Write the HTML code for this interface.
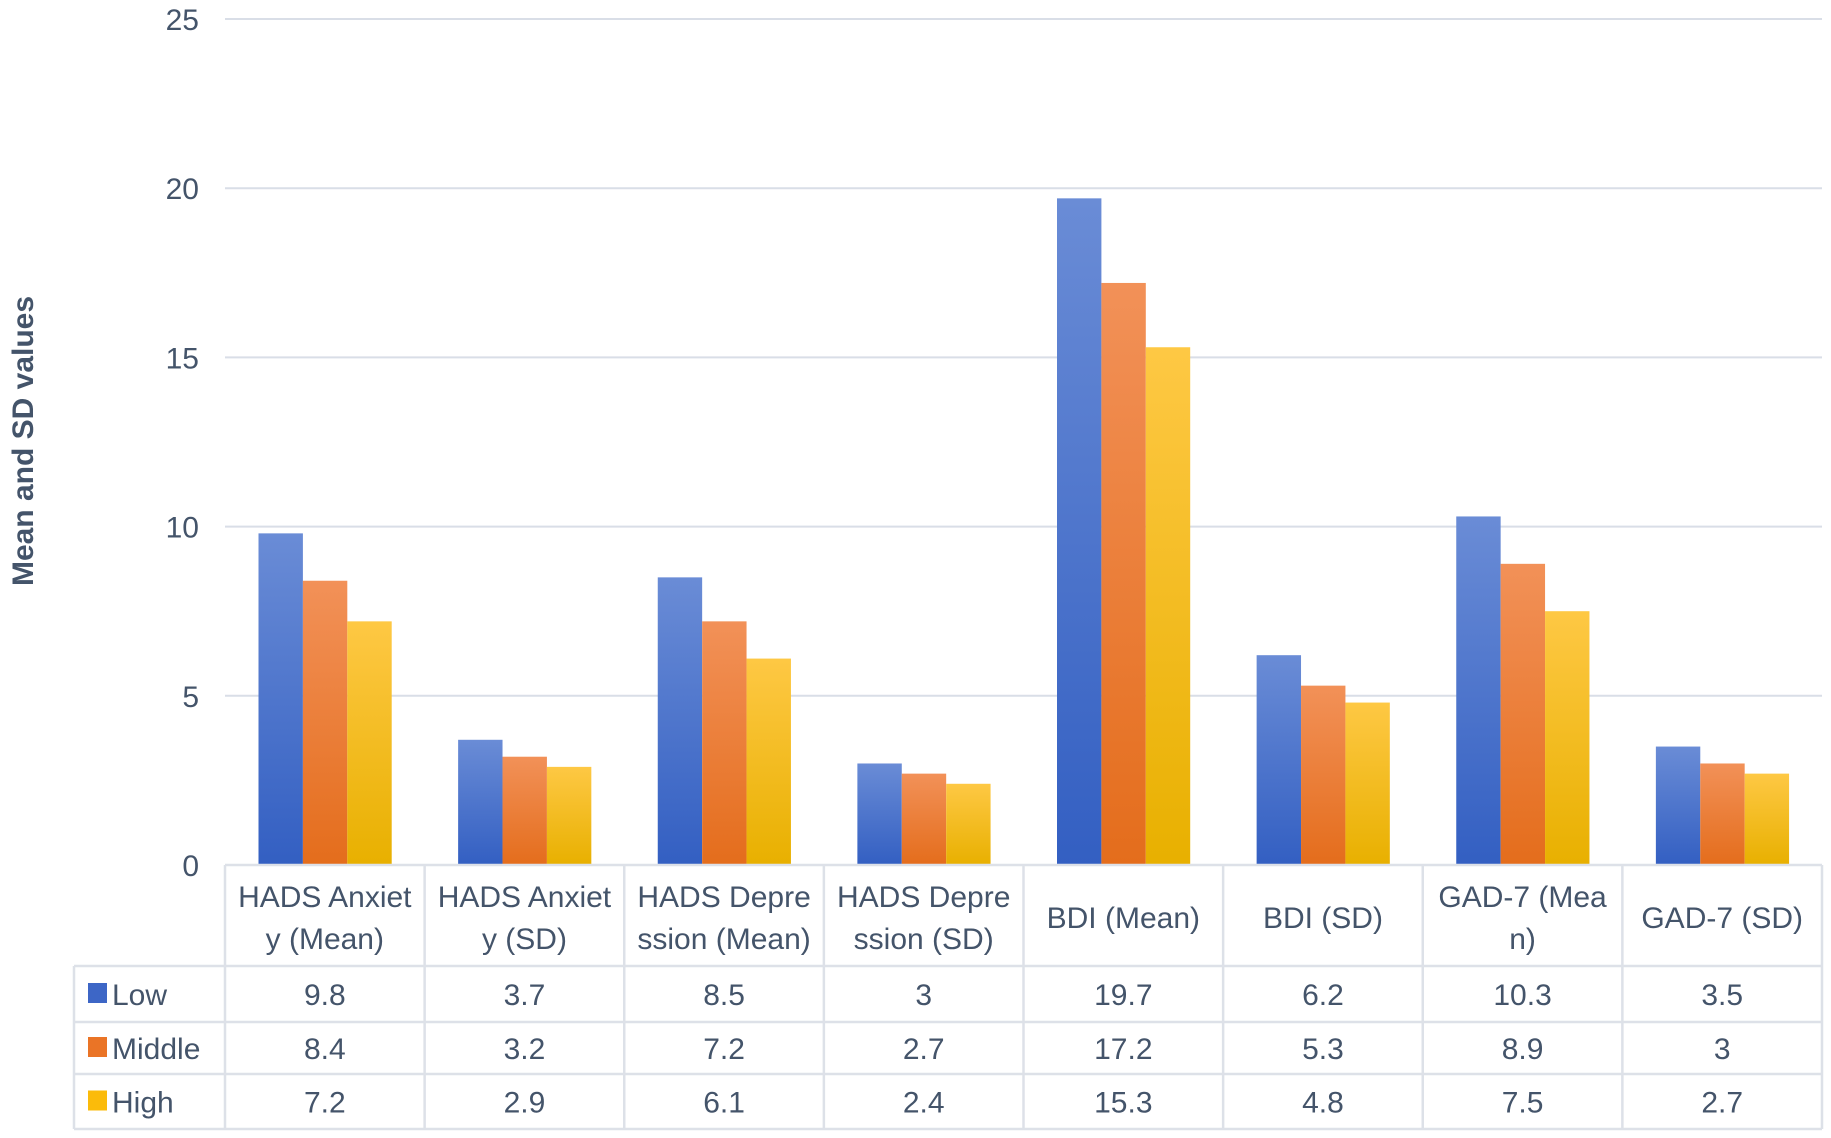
<!DOCTYPE html>
<html><head><meta charset="utf-8"><style>
html,body{margin:0;padding:0;background:#fff;}
svg{display:block;font-family:"Liberation Sans",sans-serif;}
</style></head><body>
<svg id="chart" width="1831" height="1138" viewBox="0 0 1831 1138">
<defs>
<linearGradient id="gLow" x1="0" y1="0" x2="0" y2="1"><stop offset="0" stop-color="#6a8cd6"/><stop offset="1" stop-color="#335fc2"/></linearGradient>
<linearGradient id="gMid" x1="0" y1="0" x2="0" y2="1"><stop offset="0" stop-color="#f29158"/><stop offset="1" stop-color="#e46d1c"/></linearGradient>
<linearGradient id="gHigh" x1="0" y1="0" x2="0" y2="1"><stop offset="0" stop-color="#fec844"/><stop offset="1" stop-color="#e8b000"/></linearGradient>
</defs>
<text x="33" y="441" transform="rotate(-90 33 441)" text-anchor="middle" font-size="30" font-weight="bold" fill="#44546a">Mean and SD values</text>
<g id="grid"></g><g id="bars"></g><g id="table"></g>
</svg>
<script>
const categories = [["HADS Anxiet","y (Mean)"],["HADS Anxiet","y (SD)"],["HADS Depre","ssion (Mean)"],["HADS Depre","ssion (SD)"],["BDI (Mean)"],["BDI (SD)"],["GAD-7 (Mea","n)"],["GAD-7 (SD)"]];
const seriesNames = ["Low","Middle","High"];
const lowValues = [9.8,3.7,8.5,3,19.7,6.2,10.3,3.5];
const middleValues = [8.4,3.2,7.2,2.7,17.2,5.3,8.9,3];
const highValues = [7.2,2.9,6.1,2.4,15.3,4.8,7.5,2.7];
const yTicks = [0,5,10,15,20,25];

const NS="http://www.w3.org/2000/svg";
const L=225,R=1822,Y0=865,Y25=19,yMax=25;
const y=v=>Y0-(Y0-Y25)*v/yMax;
const cw=(R-L)/categories.length;
const x=i=>L+i*cw;
const fills=["url(#gLow)","url(#gMid)","url(#gHigh)"];
const swatch=["#3d66c6","#ea7426","#fbbb0a"];
const series=[lowValues,middleValues,highValues];
function mk(t,a,p){const e=document.createElementNS(NS,t);for(const k in a)e.setAttribute(k,a[k]);p.appendChild(e);return e;}
const grid=document.getElementById('grid');
yTicks.forEach(t=>{
  if(t>0){const ln=mk('line',{x1:L,x2:R,y1:y(t),y2:y(t),stroke:'#d9dee7','stroke-width':2},grid);
  
  }
  const tx=mk('text',{x:199,y:y(t)+11,'text-anchor':'end','font-size':30,fill:'#44546a'},grid);
  tx.textContent=t;
  
  
});
const bars=document.getElementById('bars');
const bw=44.4,off=33.5;
series.forEach((vals,s)=>{vals.forEach((v,i)=>{
  const r=mk('rect',{x:x(i)+off+s*bw,y:y(v),width:bw,height:Y0-y(v),fill:fills[s]},bars);
  
  
});});
const tb=document.getElementById('table');
const rowY=[865,966,1022,1074,1129];
const lc='#dde1e8';
mk('line',{x1:L,x2:R,y1:865,y2:865,stroke:lc,'stroke-width':2.5},tb);
for(let r=1;r<rowY.length;r++) mk('line',{x1:74,x2:R,y1:rowY[r],y2:rowY[r],stroke:lc,'stroke-width':2.5},tb);
for(let i=0;i<=categories.length;i++) mk('line',{x1:x(i),x2:x(i),y1:865,y2:1129,stroke:lc,'stroke-width':2.5},tb);
mk('line',{x1:74,x2:74,y1:966,y2:1129,stroke:lc,'stroke-width':2.5},tb);
categories.forEach((c,i)=>{
  const cx=x(i)+cw/2;
  const lines=c.length;
  c.forEach((ln,k)=>{
    const t=mk('text',{x:cx,y:lines===1?928:907+k*42,'text-anchor':'middle','font-size':30,fill:'#44546a'},tb);
    t.textContent=ln;
    
    
  });
});
series.forEach((vals,s)=>{
  const cy=(rowY[s+1]+rowY[s+2])/2+11;
  const sw=mk('rect',{x:88,y:cy-22,width:19,height:20,fill:swatch[s]},tb);
  
  
  const lt=mk('text',{x:112,y:cy,'font-size':30,fill:'#44546a'},tb);
  lt.textContent=seriesNames[s];
  
  
  vals.forEach((v,i)=>{
    const t=mk('text',{x:x(i)+cw/2,y:cy,'text-anchor':'middle','font-size':30,fill:'#44546a'},tb);
    t.textContent=v;
    
    
  });
});
</script>
</body></html>
